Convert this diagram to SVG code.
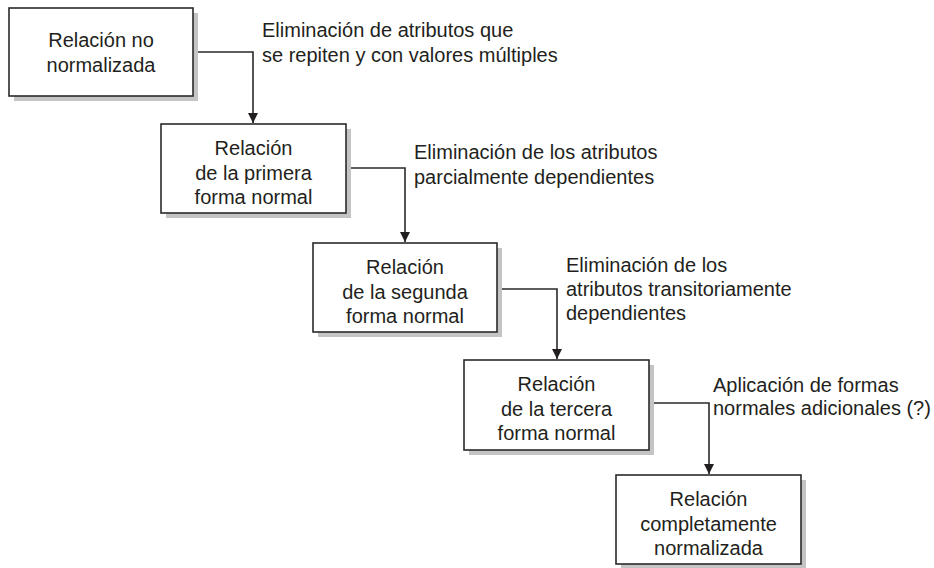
<svg xmlns="http://www.w3.org/2000/svg" width="934" height="568" viewBox="0 0 934 568">
<style>
.shadow{fill:#c4c4c4;stroke:none}
.box{fill:#fff;stroke:#2a2a2a;stroke-width:1.6}
.t{font-family:"Liberation Sans",Arial,sans-serif;font-size:20px;fill:#231f20}
.c{text-anchor:middle}
.line{fill:none;stroke:#2a2a2a;stroke-width:1.6}
</style>
<defs>
<marker id="arr" viewBox="0 0 10 10" refX="10" refY="5" markerWidth="10" markerHeight="10" markerUnits="userSpaceOnUse" orient="auto">
<path d="M0,0 L10,5 L0,10 Z" fill="#231f20"/>
</marker>
</defs>
<g id="connectors">
<path class="line" d="M193,52 H253 V123" marker-end="url(#arr)"/>
<path class="line" d="M346,168 H405 V242" marker-end="url(#arr)"/>
<path class="line" d="M497,289 H557 V359" marker-end="url(#arr)"/>
<path class="line" d="M649,403 H709 V474" marker-end="url(#arr)"/>
<text class="t" x="262" y="37">Eliminación de atributos que</text>
<text class="t" x="262" y="62">se repiten y con valores múltiples</text>
<text class="t" x="414" y="159">Eliminación de los atributos</text>
<text class="t" x="414" y="184">parcialmente dependientes</text>
<text class="t" x="566" y="272">Eliminación de los</text>
<text class="t" x="566" y="296">atributos transitoriamente</text>
<text class="t" x="566" y="320">dependientes</text>
<text class="t" x="713" y="392">Aplicación de formas</text>
<text class="t" x="713" y="415">normales adicionales (?)</text>
</g>
<g id="n1">
<rect class="shadow" x="14" y="13" width="184" height="88"/>
<rect class="box" x="9" y="8" width="184" height="88"/>
<text class="t c" x="101" y="47">Relación no</text>
<text class="t c" x="101" y="72">normalizada</text>
</g>
<g id="n2">
<rect class="shadow" x="166" y="129" width="185" height="89"/>
<rect class="box" x="161" y="124" width="185" height="89"/>
<text class="t c" x="253.5" y="155">Relación</text>
<text class="t c" x="253.5" y="180">de la primera</text>
<text class="t c" x="253.5" y="204">forma normal</text>
</g>
<g id="n3">
<rect class="shadow" x="318" y="248" width="184" height="89"/>
<rect class="box" x="313" y="243" width="184" height="89"/>
<text class="t c" x="405" y="274">Relación</text>
<text class="t c" x="405" y="299">de la segunda</text>
<text class="t c" x="405" y="323">forma normal</text>
</g>
<g id="n4">
<rect class="shadow" x="469" y="365" width="185" height="90"/>
<rect class="box" x="464" y="360" width="185" height="90"/>
<text class="t c" x="556.5" y="391">Relación</text>
<text class="t c" x="556.5" y="416">de la tercera</text>
<text class="t c" x="556.5" y="440">forma normal</text>
</g>
<g id="n5">
<rect class="shadow" x="621" y="480" width="185" height="88"/>
<rect class="box" x="616" y="475" width="185" height="89"/>
<text class="t c" x="708.5" y="506">Relación</text>
<text class="t c" x="708.5" y="531">completamente</text>
<text class="t c" x="708.5" y="555">normalizada</text>
</g>
</svg>
